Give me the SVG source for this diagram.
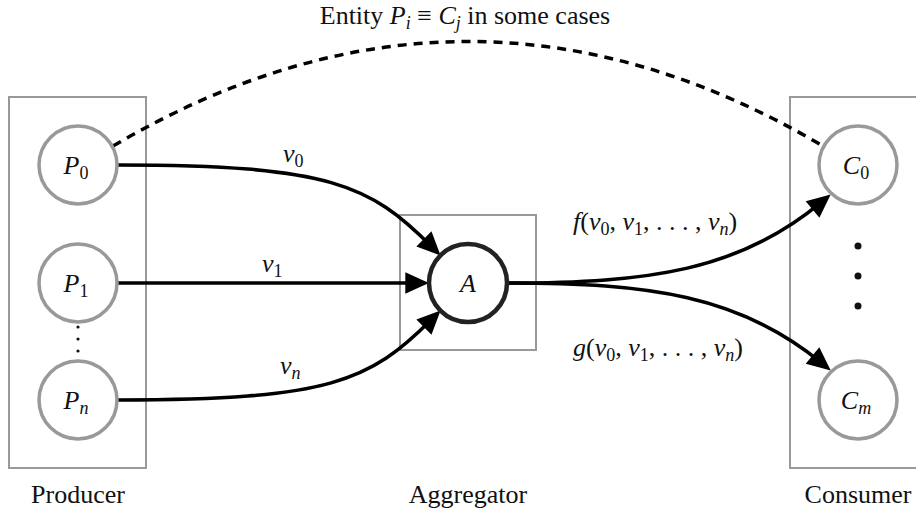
<svg xmlns="http://www.w3.org/2000/svg" width="916" height="511" viewBox="0 0 916 511" font-family="'Liberation Serif', 'DejaVu Serif', serif">
<defs>
<style>
text{font-family:'Liberation Serif','DejaVu Serif',serif;font-size:26px;fill:#111}
.it{font-style:italic}
.sub{font-size:18px}
.box{fill:none;stroke:#999;stroke-width:2}
.pc{fill:#fff;stroke:#999;stroke-width:3.5}
.ac{fill:#fff;stroke:#222;stroke-width:4.5}
.edge{fill:none;stroke:#000;stroke-width:3.5}
.dash{fill:none;stroke:#000;stroke-width:3.5;stroke-dasharray:9,7}
</style>
<marker id="arr" markerUnits="userSpaceOnUse" markerWidth="30" markerHeight="30" refX="10" refY="0" orient="auto" viewBox="-2 -12 28 24" overflow="visible">
<path d="M0,-10 L22,0 L0,10 z" fill="#000"/>
</marker>
</defs>
<g id="title"><text x="465" y="24" text-anchor="middle">Entity <tspan class="it">P</tspan><tspan class="sub it" dy="5">i</tspan><tspan dy="-5"> ≡ </tspan><tspan class="it">C</tspan><tspan class="sub it" dy="5">j</tspan><tspan dy="-5"> in some cases</tspan></text></g>
<g id="producer">
<rect class="box" x="9" y="97" width="137" height="371"/>
<text x="78" y="503" text-anchor="middle">Producer</text>
<circle cx="78" cy="327" r="1.6" fill="#111"/><circle cx="78" cy="339" r="1.6" fill="#111"/><circle cx="78" cy="351" r="1.6" fill="#111"/>
</g>
<g id="aggregator">
<rect class="box" x="400" y="215" width="136" height="135"/>
<text x="468" y="503" text-anchor="middle">Aggregator</text>
</g>
<g id="consumer">
<rect class="box" x="790" y="97" width="140" height="371"/>
<text x="858" y="503" text-anchor="middle">Consumer</text>
<circle cx="858" cy="246" r="3.5" fill="#111"/><circle cx="858" cy="276" r="3.5" fill="#111"/><circle cx="858" cy="306" r="3.5" fill="#111"/>
</g>
<g id="connectors">
<path class="dash" d="M113,146 Q468,-63 823,146"/>
<path class="edge" d="M118,165 C330,165 370,185 431.5,246.5" marker-end="url(#arr)"/>
<path class="edge" d="M118,283 L416,283" marker-end="url(#arr)"/>
<path class="edge" d="M118,400 C330,400 370,381 431.5,319.5" marker-end="url(#arr)"/>
<path class="edge" d="M508,283 C650,283 740,270 820.8,202.7" marker-end="url(#arr)"/>
<path class="edge" d="M508,283 C650,283 740,296 820.8,362.3" marker-end="url(#arr)"/>
<text x="283" y="162"><tspan class="it">v</tspan><tspan class="sub" dy="5">0</tspan></text>
<text x="262" y="272"><tspan class="it">v</tspan><tspan class="sub" dy="5">1</tspan></text>
<text x="280" y="374"><tspan class="it">v</tspan><tspan class="sub it" dy="5">n</tspan></text>
<text x="573" y="230"><tspan class="it">f</tspan>(<tspan class="it">v</tspan><tspan class="sub" dy="5">0</tspan><tspan dy="-5">, </tspan><tspan class="it">v</tspan><tspan class="sub" dy="5">1</tspan><tspan dy="-5">, . . . , </tspan><tspan class="it">v</tspan><tspan class="sub it" dy="5">n</tspan><tspan dy="-5">)</tspan></text>
<text x="573" y="356"><tspan class="it">g</tspan>(<tspan class="it">v</tspan><tspan class="sub" dy="5">0</tspan><tspan dy="-5">, </tspan><tspan class="it">v</tspan><tspan class="sub" dy="5">1</tspan><tspan dy="-5">, . . . , </tspan><tspan class="it">v</tspan><tspan class="sub it" dy="5">n</tspan><tspan dy="-5">)</tspan></text>
</g>
<g id="P0"><circle class="pc" cx="78" cy="165" r="39"/><text x="76" y="174" text-anchor="middle"><tspan class="it">P</tspan><tspan class="sub" dy="5">0</tspan></text></g>
<g id="P1"><circle class="pc" cx="78" cy="283" r="39"/><text x="76" y="292" text-anchor="middle"><tspan class="it">P</tspan><tspan class="sub" dy="5">1</tspan></text></g>
<g id="Pn"><circle class="pc" cx="78" cy="400" r="39"/><text x="76" y="409" text-anchor="middle"><tspan class="it">P</tspan><tspan class="sub it" dy="5">n</tspan></text></g>
<g id="A"><circle class="ac" cx="468" cy="283" r="39"/><text class="it" x="468" y="292" text-anchor="middle">A</text></g>
<g id="C0"><circle class="pc" cx="858" cy="165" r="39"/><text x="856" y="174" text-anchor="middle"><tspan class="it">C</tspan><tspan class="sub" dy="5">0</tspan></text></g>
<g id="Cm"><circle class="pc" cx="858" cy="400" r="39"/><text x="856" y="409" text-anchor="middle"><tspan class="it">C</tspan><tspan class="sub it" dy="5">m</tspan></text></g>
</svg>
